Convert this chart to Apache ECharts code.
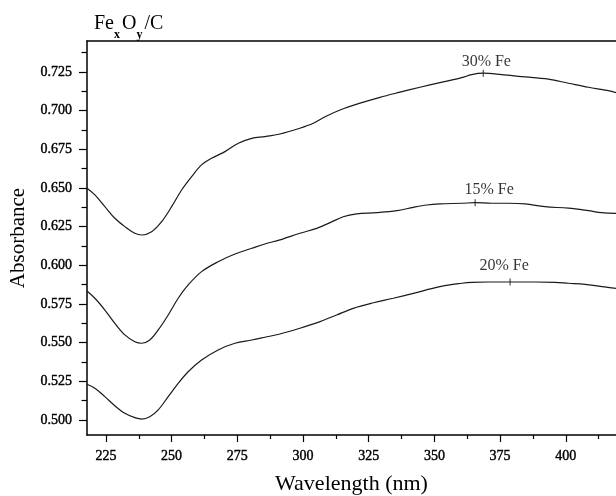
<!DOCTYPE html>
<html>
<head>
<meta charset="utf-8">
<script src="https://cdn.jsdelivr.net/npm/echarts@6/dist/echarts.min.js"></script>
<style>html,body{margin:0;padding:0;background:#fff;}#c{width:616px;height:496px;}</style>
</head>
<body>
<div id="c"></div>
<script>
// ---- data ----
const wl30 = [217.8,220.8,224.6,228.4,232.2,236.0,238.6,242.4,246.2,250.0,253.8,257.6,261.4,265.2,270.3,275.4,280.5,285.5,291.2,298.8,303.9,309.0,314.1,321.7,329.3,336.9,344.5,352.1,360.4,364.2,368.6,375.6,383.2,393.4,401.0,408.6,416.2,419.1];
const abs30 = [0.6498,0.6455,0.6379,0.6304,0.6250,0.6207,0.6196,0.6217,0.6282,0.6379,0.6487,0.6573,0.6649,0.6692,0.6735,0.6789,0.6821,0.6832,0.6849,0.6886,0.6918,0.6965,0.7004,0.7048,0.7086,0.7119,0.7151,0.7181,0.7213,0.7233,0.7242,0.7233,0.7220,0.7203,0.7177,0.7151,0.7129,0.7116];

const wl15 = [217.8,220.8,224.6,228.4,232.2,236.0,238.6,241.7,244.9,248.7,252.5,256.3,261.4,267.7,274.1,280.5,285.5,291.2,298.8,305.2,310.3,315.3,320.4,328.0,335.7,342.0,347.1,352.1,360.4,365.5,371.8,378.1,384.5,392.1,401.0,408.6,413.7,419.1];
const abs15 = [0.5834,0.5787,0.5711,0.5625,0.5550,0.5506,0.5496,0.5517,0.5582,0.5679,0.5787,0.5873,0.5959,0.6023,0.6073,0.6110,0.6138,0.6164,0.6207,0.6239,0.6276,0.6314,0.6332,0.6340,0.6353,0.6375,0.6390,0.6397,0.6401,0.6405,0.6401,0.6401,0.6397,0.6379,0.6369,0.6353,0.6340,0.6336];

const wl20 = [217.8,220.8,224.6,228.4,232.2,236.0,238.6,241.7,244.9,248.7,252.5,256.3,261.4,267.7,274.1,280.5,285.5,291.2,298.8,306.5,312.8,319.1,326.8,334.3,342.0,352.1,360.4,364.2,370.5,378.8,388.3,395.9,401.0,407.3,413.7,419.1];
const abs20 = [0.5231,0.5205,0.5151,0.5092,0.5043,0.5015,0.5006,0.5021,0.5065,0.5151,0.5237,0.5312,0.5388,0.5453,0.5496,0.5517,0.5535,0.5556,0.5593,0.5636,0.5679,0.5722,0.5758,0.5787,0.5819,0.5862,0.5884,0.5890,0.5892,0.5892,0.5892,0.5890,0.5884,0.5877,0.5862,0.5851];

const seriesNames = ['30% Fe','15% Fe','20% Fe'];
const peakWl  = [368.6, 365.5, 378.8];
const peakAbs = [0.7242, 0.6405, 0.5892];

const xTicks = [225,250,275,300,325,350,375,400];
const xMinorTicks = [237.5,262.5,287.5,312.5,337.5,362.5,387.5,412.5];
const yTicks = [0.500,0.525,0.550,0.575,0.600,0.625,0.650,0.675,0.700,0.725];
const yMinorTicks = [0.5125,0.5375,0.5625,0.5875,0.6125,0.6375,0.6625,0.6875,0.7125,0.7375];

const xMin = 217.8, xMax = 419.1, yMin = 0.4903, yMax = 0.745;

// ---- styles ----
const FONT = "'Liberation Serif','Times New Roman',serif";
const INK = '#000';
const labelOffsets = [[3,-11],[14,-13],[-6,-16]];

const pair = (xs, ys) => xs.map((x, i) => [x, ys[i]]);
const curves = [pair(wl30, abs30), pair(wl15, abs15), pair(wl20, abs20)];

const lineSeries = curves.map((d, i) => ({
  type: 'line', name: seriesNames[i], data: d, showSymbol: false, smooth: 0.35,
  lineStyle: { color: '#1a1a1a', width: 1.2 }, silent: true, z: 2
}));

const peakSeries = {
  type: 'scatter', symbol: 'rect', symbolSize: [1.2, 7], silent: true, z: 3,
  itemStyle: { color: '#222' },
  data: peakWl.map((x, i) => ({
    value: [x, peakAbs[i]], name: seriesNames[i],
    label: { show: true, position: 'inside', offset: labelOffsets[i], formatter: '{b}',
      fontFamily: FONT, fontSize: 16, color: INK }
  }))
};

const tickLabelStyle = { fontFamily: FONT, fontSize: 14, color: INK, textBorderColor: '#000', textBorderWidth: 0.4 };

const chart = echarts.init(document.getElementById('c'), null, { renderer: 'canvas' });
chart.setOption({
  animation: false,
  backgroundColor: '#fff',
  title: {
    text: '{a|Fe}{s|x}{a|O}{s|y}{a|/C}',
    left: 94, top: 14, padding: 0,
    textStyle: {
      fontWeight: 'normal',
      rich: {
        a: { fontFamily: FONT, fontSize: 20, fontWeight: 'normal', color: INK, lineHeight: 20, verticalAlign: 'top' },
        s: { fontFamily: FONT, fontSize: 12, fontWeight: 'bold', color: INK, lineHeight: 12, verticalAlign: 'top', padding: [15, 2, 0, 0] }
      }
    }
  },
  grid: { left: 87, right: 0, top: 41, bottom: 61, outerBoundsMode: 'none', containLabel: false },
  xAxis: [
    {
      type: 'value', min: xMin, max: xMax, position: 'bottom',
      name: 'Wavelength (nm)', nameLocation: 'middle', nameGap: 38,
      nameTextStyle: { fontFamily: FONT, fontSize: 22, color: INK },
      axisLine: { show: true, lineStyle: { color: '#000', width: 1.5 } },
      axisTick: { show: true, customValues: xTicks, length: 7, lineStyle: { color: '#000', width: 1.2 } },
      axisLabel: Object.assign({ show: true, customValues: xTicks, margin: 14,
        formatter: v => String(Math.round(v)) }, tickLabelStyle),
      splitLine: { show: false }
    },
    {
      type: 'value', min: xMin, max: xMax, position: 'bottom',
      axisLine: { show: false },
      axisTick: { show: true, customValues: xMinorTicks, length: 4, lineStyle: { color: '#000', width: 1.2 } },
      axisLabel: { show: false }, splitLine: { show: false }
    },
    {
      type: 'value', min: xMin, max: xMax, position: 'top',
      axisLine: { show: true, lineStyle: { color: '#000', width: 1.5 } },
      axisTick: { show: false }, axisLabel: { show: false }, splitLine: { show: false }
    }
  ],
  yAxis: [
    {
      type: 'value', min: yMin, max: yMax, position: 'left',
      name: 'Absorbance', nameLocation: 'middle', nameGap: 54,
      nameTextStyle: { fontFamily: FONT, fontSize: 21, color: INK },
      axisLine: { show: true, lineStyle: { color: '#000', width: 1.5 } },
      axisTick: { show: true, customValues: yTicks, length: 8, lineStyle: { color: '#000', width: 1.2 } },
      axisLabel: Object.assign({ show: true, customValues: yTicks, margin: 15,
        formatter: v => v.toFixed(3) }, tickLabelStyle),
      splitLine: { show: false }
    },
    {
      type: 'value', min: yMin, max: yMax, position: 'left',
      axisLine: { show: false },
      axisTick: { show: true, customValues: yMinorTicks, length: 5.5, lineStyle: { color: '#000', width: 1.2 } },
      axisLabel: { show: false }, splitLine: { show: false }
    }
  ],
  series: [...lineSeries, peakSeries]
});
</script>
</body>
</html>
